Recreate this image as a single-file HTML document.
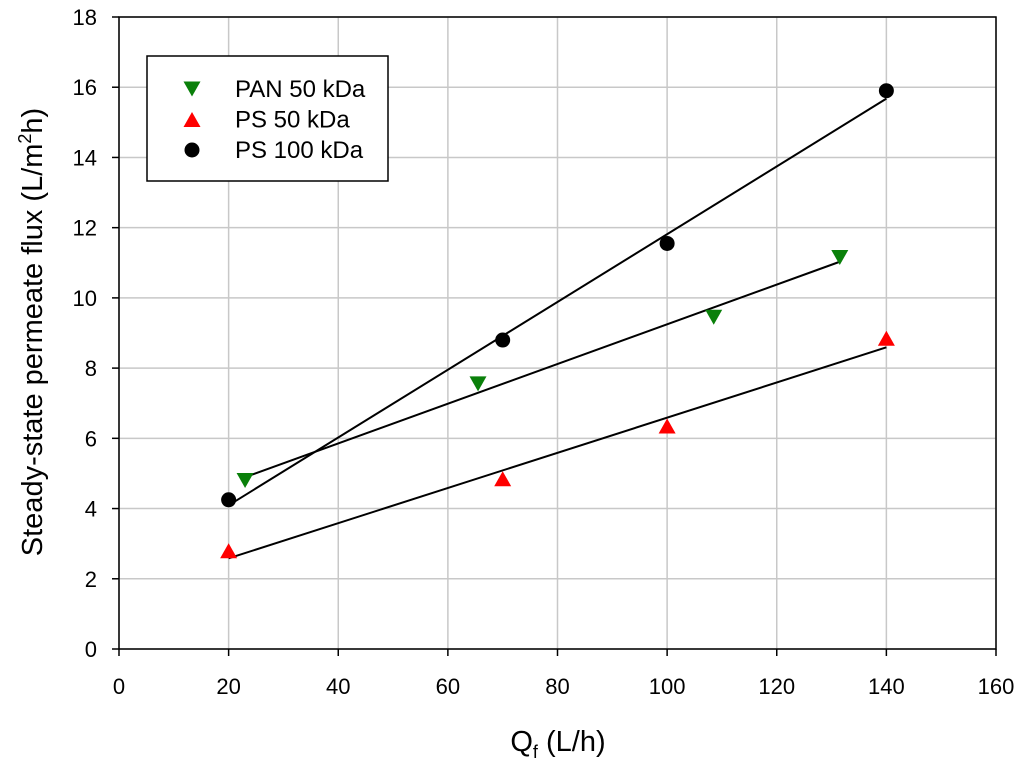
<!DOCTYPE html>
<html><head><meta charset="utf-8"><style>
body{margin:0;background:#fff}
svg text{font-family:"Liberation Sans",Arial,sans-serif;fill:#000}
</style></head><body>
<svg id="chart" width="1024" height="767" xmlns="http://www.w3.org/2000/svg">
<g id="grid"></g>
<g id="ticks"></g>
<g id="series"></g>
<rect x="119" y="17" width="877" height="632" fill="none" stroke="#000" stroke-width="1.5"/>
<text transform="translate(42,332) rotate(-90)" text-anchor="middle" font-size="29">Steady-state permeate flux (L/m<tspan font-size="18" dy="-11">2</tspan><tspan dy="11">h)</tspan></text>
<text x="558" y="751" text-anchor="middle" font-size="29">Q<tspan font-size="18" dy="7">f</tspan><tspan dy="-7"> (L/h)</tspan></text>
<g>
<rect x="147" y="56" width="241" height="125" fill="#fff" stroke="#000" stroke-width="1.5"/>
<g id="legend-items"></g>
</g>
</svg>
<script>
const xTicks=[0,20,40,60,80,100,120,140,160];
const yTicks=[0,2,4,6,8,10,12,14,16,18];
const panX=[23,65.5,108.5,131.5];
const panY=[4.8,7.55,9.45,11.15];
const ps50X=[20,70,100,140];
const ps50Y=[2.8,4.85,6.35,8.85];
const ps100X=[20,70,100,140];
const ps100Y=[4.25,8.8,11.55,15.9];
const seriesNames=["PAN 50 kDa","PS 50 kDa","PS 100 kDa"];
const NS="http://www.w3.org/2000/svg";
const X0=119,X1=996,Y0=649,Y1=17;
const sx=v=>X0+(v-0)/(160-0)*(X1-X0);
const sy=v=>Y0-(v-0)/(18-0)*(Y0-Y1);
function mk(tag,attrs,parent){const e=document.createElementNS(NS,tag);for(const k in attrs)e.setAttribute(k,attrs[k]);parent.appendChild(e);return e;}
const grid=document.getElementById('grid'),ticks=document.getElementById('ticks'),ser=document.getElementById('series');
xTicks.forEach(t=>{
 const l=mk('line',{x1:sx(t),x2:sx(t),y1:Y1,y2:Y0,stroke:'#c8c8c8','stroke-width':1.5},grid);
 
 
 const tk=mk('line',{x1:sx(t),x2:sx(t),y1:Y0,y2:Y0+7,stroke:'#000','stroke-width':1.5},ticks);
 
 
 const tx=mk('text',{x:sx(t),y:Y0+45,'text-anchor':'middle','font-size':22},ticks);tx.textContent=t;
 
 
});
yTicks.forEach(t=>{
 const l=mk('line',{x1:X0,x2:X1,y1:sy(t),y2:sy(t),stroke:'#c8c8c8','stroke-width':1.5},grid);
 
 
 const tk=mk('line',{x1:X0-7,x2:X0,y1:sy(t),y2:sy(t),stroke:'#000','stroke-width':1.5},ticks);
 
 
 const tx=mk('text',{x:97,y:sy(t)+8,'text-anchor':'end','font-size':22},ticks);tx.textContent=t;
 
 
});
function fit(xs,ys,name){
 const n=xs.length,mx=xs.reduce((a,b)=>a+b)/n,my=ys.reduce((a,b)=>a+b)/n;
 let sxx=0,sxy=0;for(let i=0;i<n;i++){sxx+=(xs[i]-mx)**2;sxy+=(xs[i]-mx)*(ys[i]-my);}
 const b=sxy/sxx,a=my-b*mx,xa=Math.min(...xs),xb=Math.max(...xs);
 const l=mk('line',{x1:sx(xa),y1:sy(a+b*xa),x2:sx(xb),y2:sy(a+b*xb),stroke:'#000','stroke-width':2},ser);
 
 
}
function marker(kind,cx,cy,parent){
 let e;
 if(kind==='down')e=mk('polygon',{points:`${cx-8.5},${cy-7.5} ${cx+8.5},${cy-7.5} ${cx},${cy+7.5}`,fill:'#0a800a'},parent);
 else if(kind==='up')e=mk('polygon',{points:`${cx-8.5},${cy+7.5} ${cx+8.5},${cy+7.5} ${cx},${cy-7.5}`,fill:'#ff0000'},parent);
 else e=mk('circle',{cx:cx,cy:cy,r:7.5,fill:'#000'},parent);
 return e;
}
fit(panX,panY,'pan-fit-line');fit(ps50X,ps50Y,'ps50-fit-line');fit(ps100X,ps100Y,'ps100-fit-line');
panX.forEach((x,i)=>{const m=marker('down',sx(x),sy(panY[i]),ser);
 
 });
ps50X.forEach((x,i)=>{const m=marker('up',sx(x),sy(ps50Y[i]),ser);
 
 });
ps100X.forEach((x,i)=>{const m=marker('circle',sx(x),sy(ps100Y[i]),ser);
 
 });
const li=document.getElementById('legend-items');
['down','up','circle'].forEach((k,i)=>{
 const y=89+i*30.5;
 const m=marker(k,192,y,li);
 
 
 const t=mk('text',{x:235,y:y+8,'font-size':24},li);t.textContent=seriesNames[i];
 
 
});
</script>
</body></html>
